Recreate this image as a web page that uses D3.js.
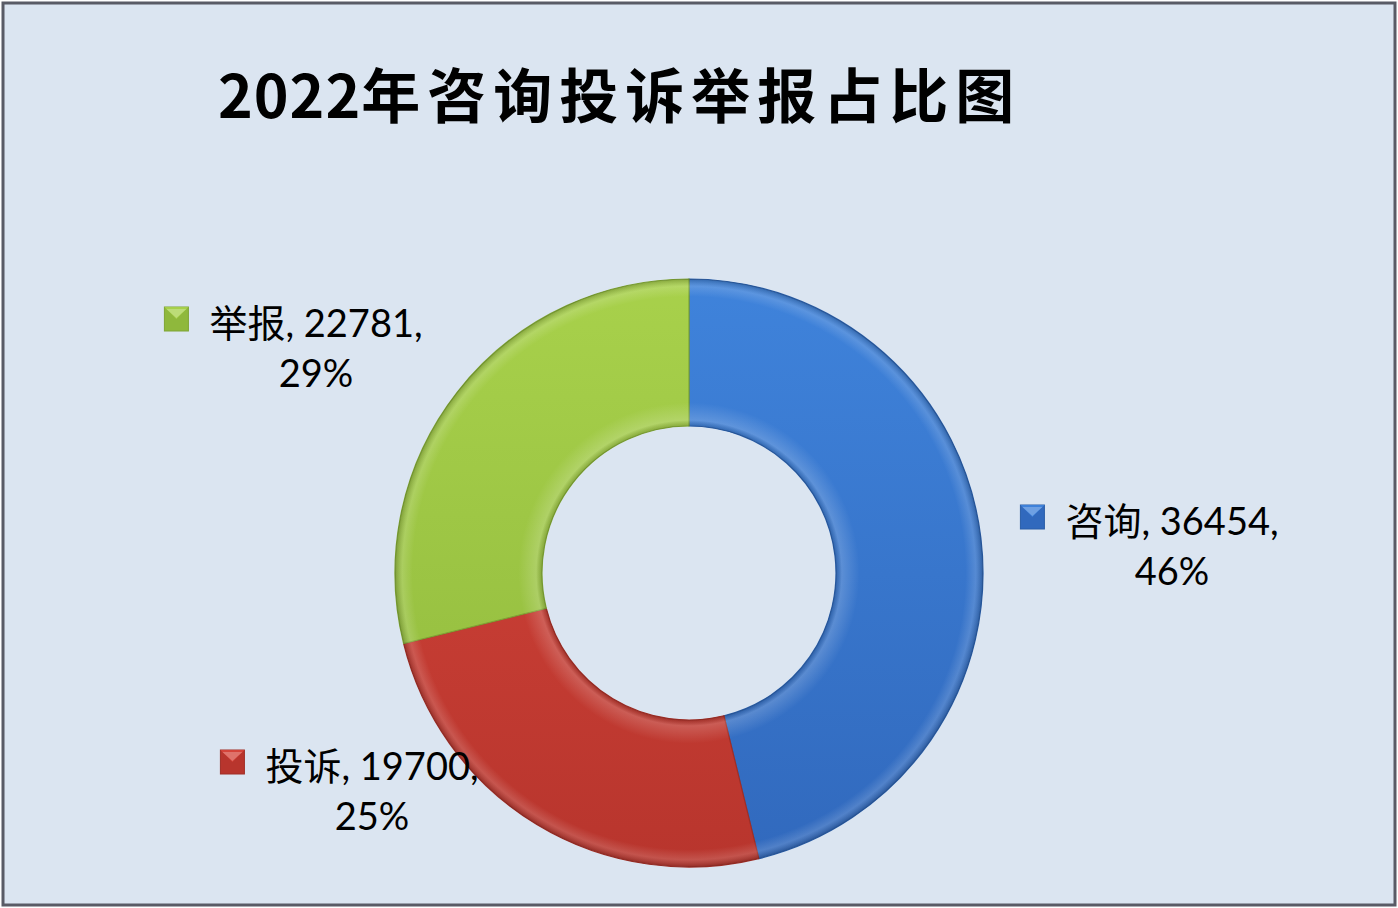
<!DOCTYPE html>
<html>
<head>
<meta charset="utf-8">
<script src="https://cdn.jsdelivr.net/npm/d3@7"></script>
<style>
  html, body { margin: 0; padding: 0; background: #fff; }
  svg { display: block; }
</style>
</head>
<body>
<div id="chart"></div>
<script>
// chart data
const categories = ["咨询", "投诉", "举报"];
const values = [36454, 19700, 22781];
const percents = ["46%", "25%", "29%"];
const title = "2022年咨询投诉举报占比图";

// colours: [light, dark] per slice
const sliceColors = [["#3f83db", "#3169bd"], ["#d6463b", "#b8352d"], ["#a8d14b", "#8fb83c"]];
const edgeColors = ["#2a5ea8", "#a02e26", "#7fa534"];

// label anchors (line one centre x, baseline y)
const labelPos = [[1172, 535], [372, 780], [316, 337]];

const width = 1398, height = 908;
const cx = 689, cy = 573;
const outerR = 294, innerR = 147;

const svg = d3.select("#chart").append("svg")
    .attr("width", width)
    .attr("height", height);

const defs = svg.append("defs");

sliceColors.forEach((c, i) => {
  const g = defs.append("linearGradient")
      .attr("id", "grad" + i)
      .attr("gradientUnits", "userSpaceOnUse")
      .attr("x1", 0).attr("y1", -outerR).attr("x2", 0).attr("y2", outerR);
  g.append("stop").attr("offset", "0%").attr("stop-color", c[0]);
  g.append("stop").attr("offset", "100%").attr("stop-color", c[1]);
});

// bevel shading across the ring width
const bevel = defs.append("radialGradient")
    .attr("id", "bevel")
    .attr("gradientUnits", "userSpaceOnUse")
    .attr("cx", 0).attr("cy", 0).attr("r", outerR);
[[0.5, "#000", 0.15], [0.52, "#fff", 0.18], [0.58, "#fff", 0], [0.94, "#fff", 0], [0.975, "#fff", 0.15], [1, "#000", 0.2]]
  .forEach(s => bevel.append("stop")
      .attr("offset", s[0]).attr("stop-color", s[1]).attr("stop-opacity", s[2]));

// background + frame
svg.append("rect")
    .attr("x", 3).attr("y", 3)
    .attr("width", width - 6).attr("height", height - 6)
    .attr("fill", "#dbe5f1")
    .attr("stroke", "#595b66")
    .attr("stroke-width", 3);

// title
const t = svg.append("text")
    .attr("x", 218)
    .attr("y", 118)
    .attr("font-family", "'Noto Sans CJK SC', sans-serif")
    .attr("font-weight", "bold")
    .attr("font-size", 59)
    .attr("fill", "#000");
t.append("tspan").attr("letter-spacing", 1).text(title.slice(0, 4));
t.append("tspan").attr("letter-spacing", 7).text(title.slice(4));

// donut
const pie = d3.pie().sort(null).value(d => d)(values);
const arc = d3.arc().innerRadius(innerR).outerRadius(outerR);

const ring = svg.append("g").attr("transform", `translate(${cx},${cy})`);

ring.selectAll("path.slice")
  .data(pie)
  .join("path")
    .attr("class", "slice")
    .attr("d", arc)
    .attr("fill", (d, i) => `url(#grad${i})`)
    .attr("stroke", (d, i) => edgeColors[i])
    .attr("stroke-width", 1.2);

ring.selectAll("path.shade")
  .data(pie)
  .join("path")
    .attr("class", "shade")
    .attr("d", arc)
    .attr("fill", "url(#bevel)")
    .style("pointer-events", "none");

// labels
const fontFamily = "Lato, 'Noto Sans CJK SC', sans-serif";
const labels = svg.append("g")
    .attr("font-family", fontFamily)
    .attr("font-size", 38)
    .attr("fill", "#000");

categories.forEach((name, i) => {
  const [lx, ly] = labelPos[i];
  const line1 = labels.append("text")
      .attr("x", lx).attr("y", ly)
      .attr("text-anchor", "middle")
      .text(`${name}, ${values[i]},`);
  labels.append("text")
      .attr("x", lx).attr("y", ly + 50)
      .attr("text-anchor", "middle")
      .text(percents[i]);

  const w = line1.node().getComputedTextLength();
  const kx = lx - w / 2 - 45, ky = ly - 30, ks = 24;
  const key = labels.append("g").attr("transform", `translate(${kx},${ky})`);
  key.append("rect")
      .attr("width", ks).attr("height", ks)
      .attr("fill", sliceColors[i][1])
      .attr("stroke", edgeColors[i]).attr("stroke-width", 1);
  key.append("path")
      .attr("d", `M0,0L${ks},0L${ks / 2},${ks / 2}Z`)
      .attr("fill", sliceColors[i][0])
      .attr("opacity", 0.95);
  key.append("path")
      .attr("d", `M2,2L${ks - 2},2L${ks / 2},${ks / 2 - 1}Z`)
      .attr("fill", "#fff")
      .attr("opacity", 0.25);
});
</script>
</body>
</html>
